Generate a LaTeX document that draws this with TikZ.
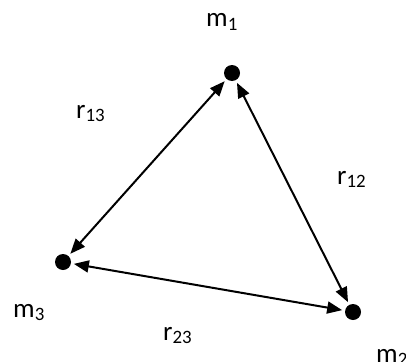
\documentclass[tikz,border=0pt]{standalone}
\usepackage{fontspec}
\setmainfont{Carlito}
\usetikzlibrary{arrows.meta}
\begin{document}
\begin{tikzpicture}[x=1pt,y=-1pt,
  mass/.style={circle,fill=black,inner sep=0pt,minimum size=16pt,outer sep=3pt},
  lbl/.style={anchor=base west,inner sep=0pt,font=\fontsize{27}{30}\selectfont},
  link/.style={{Triangle[length=15pt,width=12pt]}-{Triangle[length=15pt,width=12pt]},line width=2pt}]
\useasboundingbox (0,0) rectangle (406,361);
\node[mass] (m1) at (232,73) {};
\node[mass] (m2) at (353,312) {};
\node[mass] (m3) at (63,262) {};
\node[lbl] (l1) at (206,27) {m\textsubscript{1}};
\node[lbl] (l2) at (376,362) {m\textsubscript{2}};
\node[lbl] (l3) at (13,317) {m\textsubscript{3}};
\node[lbl] (r13) at (76,118) {r\textsubscript{13}};
\node[lbl] (r12) at (337,184) {r\textsubscript{12}};
\node[lbl] (r23) at (163,340) {r\textsubscript{23}};
\draw[link] (m1) -- (m3);
\draw[link] (m1) -- (m2);
\draw[link] (m3) -- (m2);
\end{tikzpicture}
\end{document}
